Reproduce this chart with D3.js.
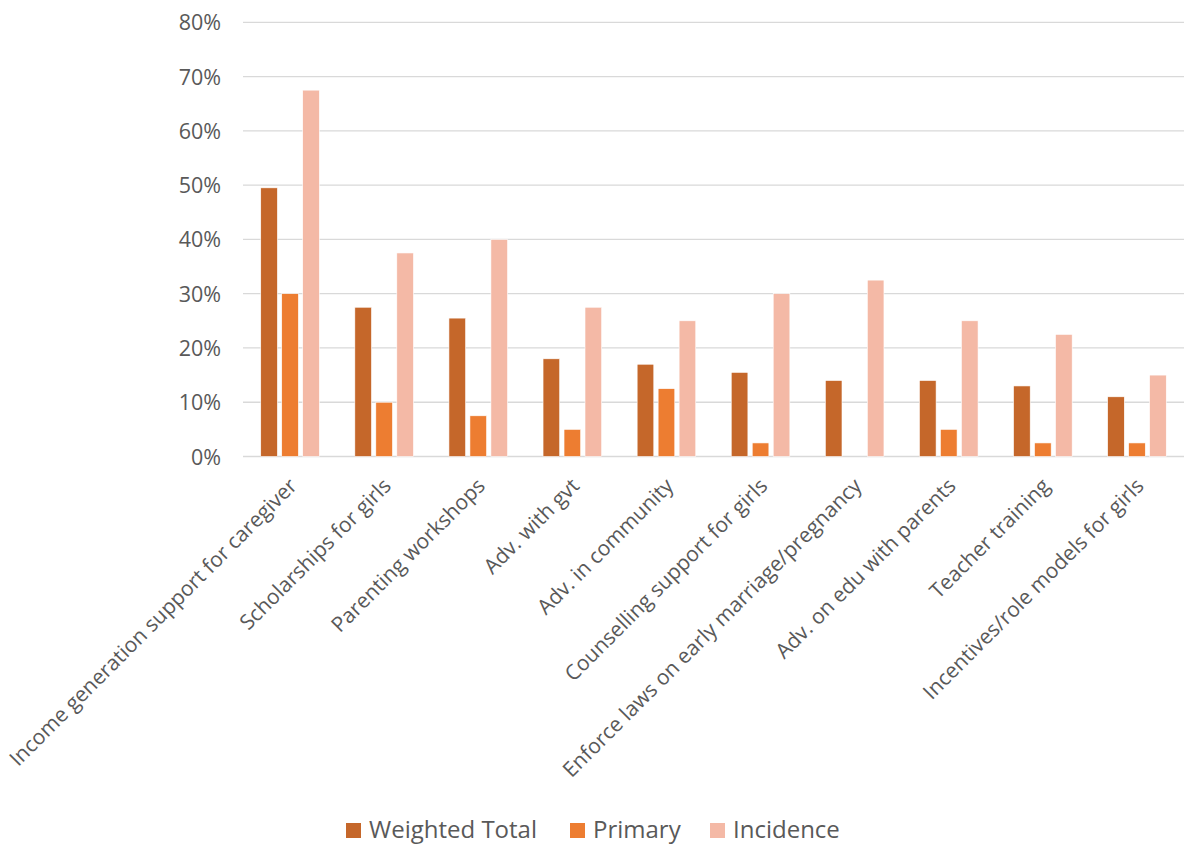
<!DOCTYPE html>
<html><head><meta charset="utf-8">
<script src="https://cdn.jsdelivr.net/npm/d3@7"></script>
<style>body{margin:0;background:#fff;} text{font-family:"Open Sans","Noto Sans",sans-serif;fill:#595959;}</style>
</head><body>
<svg id="c" width="1185" height="847"></svg>
<script>
const categories = ["Income generation support for caregiver","Scholarships for girls","Parenting workshops","Adv. with gvt","Adv. in community","Counselling support for girls","Enforce laws on early marriage/pregnancy","Adv. on edu with parents","Teacher training","Incentives/role models for girls"];
const seriesNames = ["Weighted Total","Primary","Incidence"];
const weightedTotal = [49.5,27.5,25.5,18,17,15.5,14,14,13,11];
const primary = [30,10,7.5,5,12.5,2.5,0,5,2.5,2.5];
const incidence = [67.5,37.5,40,27.5,25,30,32.5,25,22.5,15];
const yTicks = [0,10,20,30,40,50,60,70,80];
const colors = ["#C5672A","#ED7D31","#F4B9A6"];
const seriesValues = [weightedTotal, primary, incidence];

(function(){
const svg = d3.select("#c");
const pL = 243, pR = 1184, pT = 22.3, pB = 456.5;
const x = d3.scaleBand().domain(categories).range([pL, pR]).padding(0);
const y = d3.scaleLinear().domain([0, 80]).range([pB, pT]);

svg.append("g").selectAll("line").data(yTicks).join("line")
  .attr("x1", pL).attr("x2", pR)
  .attr("y1", d => y(d)).attr("y2", d => y(d))
  .attr("stroke", "#D9D9D9").attr("stroke-width", 1.3);

const yAxis = d3.axisLeft(y).tickValues(yTicks).tickFormat(d => d + "%").tickSize(0).tickPadding(0);
const ya = svg.append("g").attr("transform", `translate(${221},0)`).call(yAxis);
ya.select(".domain").remove();
ya.selectAll("text").attr("font-size", 21.5).style("font-family", '"Open Sans","Noto Sans",sans-serif').attr("fill", "#595959").attr("dy", "0.35em");

const bw = x.bandwidth();
const barW = bw * 0.177, step = bw * 0.223;
const groups = svg.append("g");
seriesValues.forEach((vals, si) => {
  groups.append("g").selectAll("rect").data(vals).join("rect")
    .attr("x", (d, i) => x(categories[i]) + bw / 2 + (si - 1) * step - barW / 2)
    .attr("width", barW)
    .attr("y", d => y(d))
    .attr("height", d => y(0) - y(d))
    .attr("fill", colors[si])
    .attr("stroke", d => d > 0 ? "#fff" : "none").attr("stroke-width", 0.6);
});

const xl = svg.append("g");
categories.forEach(c => {
  const cx = x(c) + bw / 2 + 3, cy = 482;
  xl.append("text").attr("transform", `translate(${cx},${cy}) rotate(-45)`)
    .attr("text-anchor", "end").attr("font-size", 21).attr("dy", "0.35em").text(c);
});

const legendItems = [{n: seriesNames[0], x: 346}, {n: seriesNames[1], x: 570}, {n: seriesNames[2], x: 710}];
const lg = svg.append("g");
legendItems.forEach((it, i) => {
  lg.append("rect").attr("x", it.x).attr("y", 823).attr("width", 15).attr("height", 15).attr("fill", colors[i]);
  lg.append("text").attr("x", it.x + 23).attr("y", 830).attr("dy", "0.35em").attr("font-size", 24).text(it.n);
});
})();
</script>
</body></html>
